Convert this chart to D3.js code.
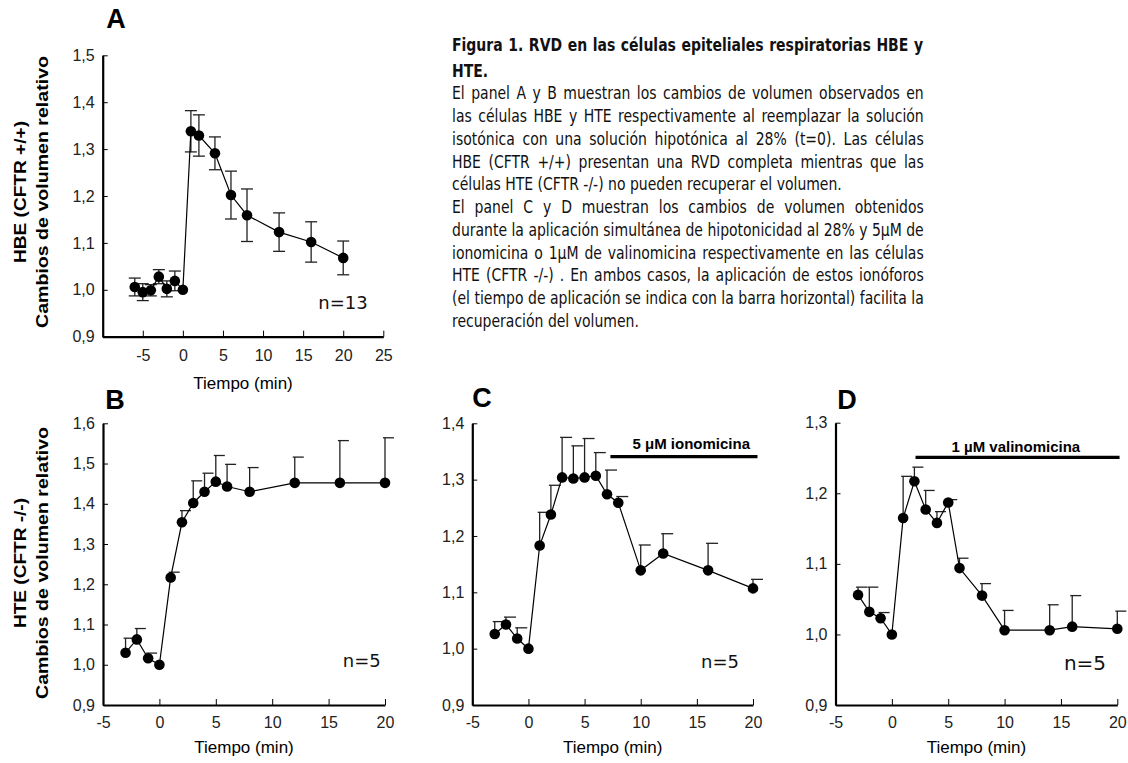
<!DOCTYPE html>
<html lang="es">
<head>
<meta charset="UTF-8">
<title>Figura 1 - RVD en células HBE y HTE</title>
<script src="https://d3js.org/d3.v7.min.js"></script>
<style>
  body { margin: 0; background: #fff; }
  svg { display: block; }
  .axis .domain { stroke: #000; stroke-width: 2.2; }
  .axis .tick line { stroke: #000; stroke-width: 1; }
  .axis .tick text { font-family: "Liberation Sans", Arial, sans-serif; font-size: 16px; fill: #222; }
  .ttl { font-family: "Liberation Sans", Arial, sans-serif; fill: #000; }
  .cap text { font-family: "DejaVu Sans", Verdana, sans-serif; font-size: 17px; fill: #111; }
</style>
</head>
<body>
<svg id="fig"></svg>
<script>
// ---- datos ----
// Panel A: HBE, media ± error
const timeA = [-6, -5, -4, -3, -2, -1, 0, 1, 2, 4, 6, 8, 12, 16, 20];
const volA  = [1.006, 0.995, 0.999, 1.028, 1.002, 1.019, 1.000, 1.338, 1.329, 1.291, 1.202, 1.159, 1.123, 1.102, 1.068];
const errA  = [0.019, 0.018, 0.012, 0.015, 0.017, 0.021, 0, 0.044, 0.044, 0.035, 0.051, 0.056, 0.041, 0.043, 0.036];

// Panel B: HTE
const timeB = [-3, -2, -1, 0, 1, 2, 3, 4, 5, 6, 8, 12, 16, 20];
const volB  = [1.030, 1.063, 1.016, 1.000, 1.217, 1.354, 1.402, 1.430, 1.455, 1.443, 1.430, 1.452, 1.452, 1.452];
const errB  = [0.036, 0.027, 0.013, 0, 0.013, 0.029, 0.055, 0.046, 0.065, 0.055, 0.060, 0.064, 0.105, 0.112];

// Panel C: HTE + ionomicina
const timeC = [-3, -2, -1, 0, 1, 2, 3, 4, 5, 6, 7, 8, 10, 12, 16, 20];
const volC  = [1.026, 1.043, 1.018, 1.000, 1.183, 1.238, 1.304, 1.302, 1.304, 1.307, 1.274, 1.259, 1.139, 1.169, 1.139, 1.107];
const errC  = [0.022, 0.013, 0.019, 0, 0.059, 0.052, 0.071, 0.058, 0.069, 0.041, 0.043, 0.011, 0.045, 0.035, 0.048, 0.016];

// Panel D: HTE + valinomicina
const timeD = [-3, -2, -1, 0, 1, 2, 3, 4, 5, 6, 8, 10, 14, 16, 20];
const volD  = [1.056, 1.032, 1.023, 1.000, 1.165, 1.217, 1.177, 1.158, 1.187, 1.094, 1.055, 1.006, 1.006, 1.011, 1.008];
const errD  = [0.011, 0.035, 0.008, 0, 0.059, 0.020, 0.027, 0.016, 0.004, 0.014, 0.017, 0.028, 0.036, 0.044, 0.025];

// barras de aplicación del ionóforo [inicio, fin, nivel]
const barC = [7.3, 20.4, 1.341];
const barD = [2.1, 20.2, 1.251];

// ticks
const xTicksA = [-5, 0, 5, 10, 15, 20, 25];
const xTicksBCD = [-5, 0, 5, 10, 15, 20];
const yTicksA = [0.9, 1.0, 1.1, 1.2, 1.3, 1.4, 1.5];
const yTicksB = [0.9, 1.0, 1.1, 1.2, 1.3, 1.4, 1.5, 1.6];
const yTicksC = [0.9, 1.0, 1.1, 1.2, 1.3, 1.4];
const yTicksD = [0.9, 1.0, 1.1, 1.2, 1.3];

// texto de la leyenda
const captionTitle = [
  "Figura 1.  RVD en las células epiteliales respiratorias HBE y",
  "HTE."
];
const captionBody = [
  "El panel A y B muestran los cambios de volumen observados en",
  "las células HBE y HTE respectivamente al reemplazar la solución",
  "isotónica con una solución hipotónica al 28% (t=0). Las células",
  "HBE (CFTR +/+) presentan una RVD completa mientras que las",
  "células HTE (CFTR -/-) no pueden recuperar el volumen.",
  "El panel C y D muestran los cambios de volumen obtenidos",
  "durante la aplicación simultánea de hipotonicidad al 28% y 5μM de",
  "ionomicina o 1μM de valinomicina respectivamente en las células",
  "HTE (CFTR -/-) . En ambos casos, la aplicación de estos ionóforos",
  "(el tiempo de aplicación se indica con la barra horizontal) facilita la",
  "recuperación del volumen."
];
const paragraphEnds = [4, 10];

// ---- dibujo ----
const W = 1128, H = 763;
const svg = d3.select("#fig").attr("width", W).attr("height", H);
svg.append("rect").attr("width", W).attr("height", H).attr("fill", "#fff");

const fmtY = d => d3.format(".1f")(d).replace(".", ",");

const panels = [
  { letter: "A", t: timeA, v: volA, e: errA, both: true,
    xDom: [-10, 25], xTicks: xTicksA, yDom: [0.9, 1.5], yTicks: yTicksA,
    left: 102.7, right: 383.3, top: 55.3, bottom: 336.7, xPad: 12.5,
    capL: 6, capR: 6, n: "n=13", nx: 343, ny: 308.5, nSize: 18,
    lx: 116, ly: 28, titleY: 389 },
  { letter: "B", t: timeB, v: volB, e: errB, both: false,
    xDom: [-5, 20], xTicks: xTicksBCD, yDom: [0.9, 1.6], yTicks: yTicksB,
    left: 103, right: 385, top: 423.3, bottom: 705, xPad: 11.5,
    capL: 2, capR: 9, n: "n=5", nx: 361.7, ny: 667, nSize: 18,
    lx: 115, ly: 408.5, titleY: 753 },
  { letter: "C", t: timeC, v: volC, e: errC, both: false,
    xDom: [-5, 20], xTicks: xTicksBCD, yDom: [0.9, 1.4], yTicks: yTicksC,
    left: 472.3, right: 753, top: 423.3, bottom: 705, xPad: 11.5,
    capL: 2, capR: 10, n: "n=5", nx: 720, ny: 668, nSize: 18,
    lx: 482, ly: 407, titleY: 753,
    bar: barC, barLabel: "5 μM ionomicina", barLabelT: 14.5, barLabelDy: -7.5 },
  { letter: "D", t: timeD, v: volD, e: errD, both: false,
    xDom: [-5, 20], xTicks: xTicksBCD, yDom: [0.9, 1.3], yTicks: yTicksD,
    left: 835.5, right: 1117.3, top: 422.7, bottom: 705, xPad: 11.5,
    capL: 2, capR: 9, n: "n=5", nx: 1085, ny: 670, nSize: 20,
    lx: 847, ly: 408.5, titleY: 753,
    bar: barD, barLabel: "1 µM valinomicina", barLabelT: 11.0, barLabelDy: -5 }
];

panels.forEach(p => {
  const x = d3.scaleLinear().domain(p.xDom).range([p.left, p.right]);
  const y = d3.scaleLinear().domain(p.yDom).range([p.bottom, p.top]);
  const g = svg.append("g");
  const pts = p.t.map((t, i) => ({ t: t, v: p.v[i], e: p.e[i] }));

  // ejes
  g.append("g").attr("class", "axis")
    .attr("transform", `translate(0,${p.bottom})`)
    .call(d3.axisBottom(x).tickValues(p.xTicks).tickSizeInner(-6).tickSizeOuter(0)
      .tickPadding(p.xPad).tickFormat(d => String(d)));
  g.append("g").attr("class", "axis")
    .attr("transform", `translate(${p.left},0)`)
    .call(d3.axisLeft(y).tickValues(p.yTicks).tickSizeInner(-5).tickSizeOuter(0)
      .tickPadding(8).tickFormat(fmtY));

  // barras de error
  const eb = g.append("g").attr("stroke", "#222").attr("stroke-width", 1.3).attr("fill", "none");
  pts.filter(d => d.e > 0).forEach(d => {
    const cx = x(d.t);
    const yTop = y(d.v + d.e);
    const yBot = p.both ? y(d.v - d.e) : y(d.v);
    eb.append("line").attr("x1", cx).attr("x2", cx).attr("y1", yTop).attr("y2", yBot);
    eb.append("line").attr("x1", cx - p.capL).attr("x2", cx + p.capR).attr("y1", yTop).attr("y2", yTop);
    if (p.both) {
      eb.append("line").attr("x1", cx - p.capL).attr("x2", cx + p.capR).attr("y1", yBot).attr("y2", yBot);
    }
  });

  // línea y puntos
  g.append("path").datum(pts)
    .attr("fill", "none").attr("stroke", "#000").attr("stroke-width", 1.2)
    .attr("d", d3.line().x(d => x(d.t)).y(d => y(d.v)));
  g.selectAll("circle").data(pts).enter().append("circle")
    .attr("cx", d => x(d.t)).attr("cy", d => y(d.v)).attr("r", 5.3).attr("fill", "#000");

  // barra del ionóforo
  if (p.bar) {
    g.append("line")
      .attr("x1", x(p.bar[0])).attr("x2", x(p.bar[1]))
      .attr("y1", y(p.bar[2])).attr("y2", y(p.bar[2]))
      .attr("stroke", "#000").attr("stroke-width", 3.3);
    g.append("text").attr("class", "ttl")
      .attr("x", x(p.barLabelT)).attr("y", y(p.bar[2]) + p.barLabelDy)
      .attr("text-anchor", "middle").attr("font-weight", "bold").attr("font-size", 15)
      .text(p.barLabel);
  }

  // n
  g.append("text").attr("x", p.nx).attr("y", p.ny)
    .attr("text-anchor", "middle")
    .attr("font-family", "'DejaVu Sans', Verdana, sans-serif")
    .attr("font-size", p.nSize).attr("fill", "#111")
    .text(p.n);

  // letra del panel
  g.append("text").attr("class", "ttl")
    .attr("x", p.lx).attr("y", p.ly).attr("text-anchor", "middle")
    .attr("font-weight", "bold").attr("font-size", 27)
    .text(p.letter);

  // título eje x
  g.append("text").attr("class", "ttl")
    .attr("x", (p.left + p.right) / 2).attr("y", p.titleY)
    .attr("text-anchor", "middle").attr("font-size", 17).attr("fill", "#111")
    .text("Tiempo (min)");
});

// títulos eje y (compartidos por fila)
const yTitles = [
  { lines: ["HBE (CFTR +/+)", "Cambios de volumen relativo"], cy: 192, lens: [142, 272] },
  { lines: ["HTE (CFTR -/-)", "Cambios de volumen relativo"], cy: 563, lens: [130, 272] }
];
yTitles.forEach(t => {
  [26, 48].forEach((bx, i) => {
    svg.append("text").attr("class", "ttl")
      .attr("transform", `translate(${bx},${t.cy}) rotate(-90)`)
      .attr("text-anchor", "middle").attr("font-weight", "bold").attr("font-size", 16.5)
      .attr("textLength", t.lens[i]).attr("lengthAdjust", "spacingAndGlyphs")
      .text(t.lines[i]);
  });
});

// leyenda de la figura (texto justificado)
const capX = 452, capW = 472;
const capG = svg.append("g").attr("transform", `translate(${capX},0)`);
const inner = capG.append("g").attr("class", "cap");
const rows = [];
captionTitle.forEach((s, i) => rows.push({ s: s, y: [51, 77.5][i], bold: true, just: i === 0 }));
captionBody.forEach((s, i) => rows.push({ s: s, y: 99.5 + 22.75 * i, bold: false, just: paragraphEnds.indexOf(i) < 0 }));

const nodes = rows.map(r => inner.append("text")
  .attr("x", 0).attr("y", r.y)
  .attr("font-weight", r.bold ? "bold" : "normal")
  .text(r.s));
const widths = nodes.map(n => n.node().getComputedTextLength());
const maxW = d3.max(rows.map((r, i) => (!r.bold && r.just) ? widths[i] : 0));
const sx = capW / maxW;
inner.attr("transform", `scale(${sx},1)`);
rows.forEach((r, i) => {
  if (!r.just) return;
  const spaces = (r.s.match(/ /g) || []).length;
  const extra = capW / sx - widths[i];
  nodes[i].attr("word-spacing", extra / spaces);
});
</script>
</body>
</html>
